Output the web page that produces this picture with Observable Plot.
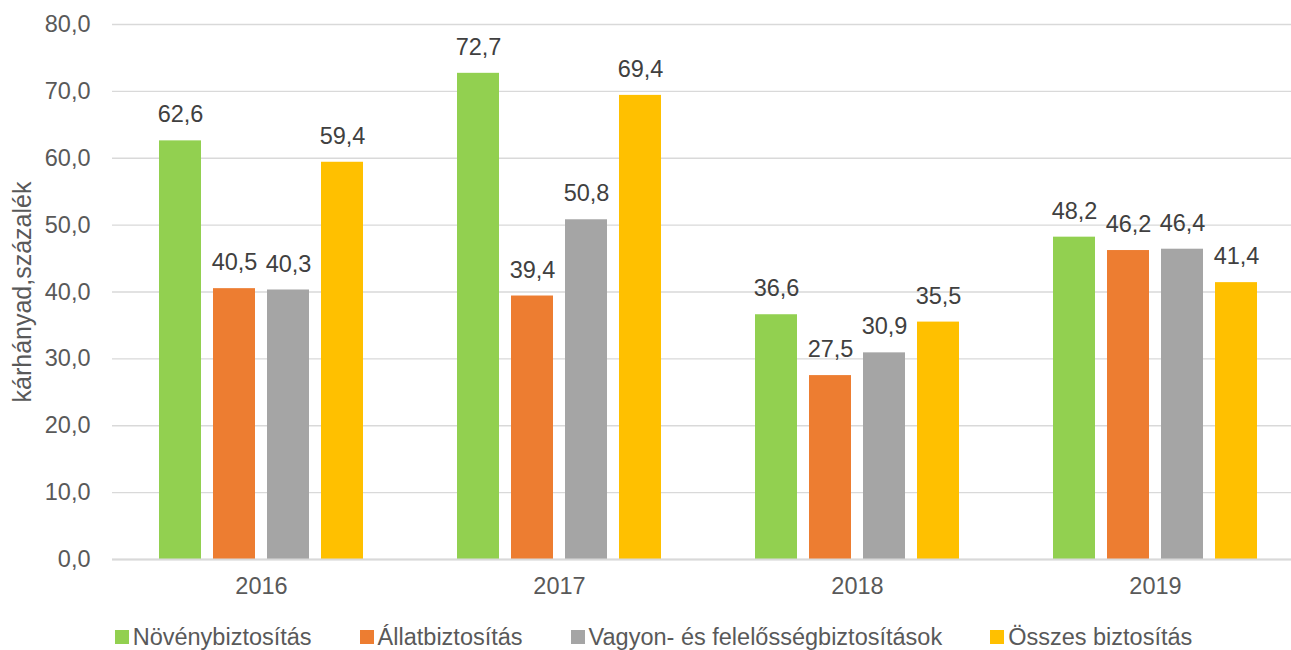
<!DOCTYPE html>
<html>
<head>
<meta charset="utf-8">
<script src="https://cdn.jsdelivr.net/npm/d3@7"></script>
<script src="https://cdn.jsdelivr.net/npm/@observablehq/plot@0.6"></script>
<style>
  html, body { margin: 0; padding: 0; background: #fff; }
  svg { display: block; }
  #legend { display: flex; justify-content: center; align-items: center; height: 62px; padding-left: 16px;
    font-family: "Liberation Sans", Arial, sans-serif; font-size: 23.5px; color: #595959; }
  .item { display: flex; align-items: center; margin: 0 24px; }
  .sw { width: 14px; height: 14px; margin-right: 4px; }
</style>
</head>
<body>
<div id="chart"></div>
<script>
const years = ["2016", "2017", "2018", "2019"];
const series = ["Növénybiztosítás", "Állatbiztosítás", "Vagyon- és felelősségbiztosítások", "Összes biztosítás"];
const colors = ["#92D050", "#ED7D31", "#A5A5A5", "#FFC000"];
const novenyValues = [62.6, 72.7, 36.6, 48.2];
const allatValues = [40.5, 39.4, 27.5, 46.2];
const vagyonValues = [40.3, 50.8, 30.9, 46.4];
const osszesValues = [59.4, 69.4, 35.5, 41.4];
const yTicks = [0, 10, 20, 30, 40, 50, 60, 70, 80];
const yLabel = "kárhányad,százalék";

const allSeries = [novenyValues, allatValues, vagyonValues, osszesValues];
const data = [];
years.forEach((yr, i) => series.forEach((s, j) => data.push({year: yr, series: s, value: allSeries[j][i]})));
const fmt = d => d.toFixed(1).replace(".", ",");
const font = "Liberation Sans, Arial, sans-serif";

const plot = Plot.plot({
  width: 1291,
  height: 606,
  marginTop: 24,
  marginBottom: 47,
  marginLeft: 112,
  marginRight: -13,
  style: {fontFamily: font, fontSize: "23.5px", color: "#595959", background: "#fff"},
  fx: {domain: years, padding: 0},
  x: {domain: series, paddingInner: 0.222, paddingOuter: 0.87, axis: null},
  y: {domain: [0, 80]},
  color: {domain: series, range: colors},
  marks: [
    Plot.gridY(yTicks, {stroke: "#D9D9D9", strokeOpacity: 1, strokeWidth: 1.3}),
    Plot.barY(data, {fx: "year", x: "series", y: "value", fill: "series"}),
    Plot.ruleY([0], {stroke: "#D9D9D9", strokeWidth: 2}),
    Plot.text(data, {fx: "year", x: "series", y: "value", text: d => fmt(d.value), dy: -26,
      fill: "#404040", fontSize: 23.5, fontFamily: font}),
    Plot.axisY(yTicks, {tickSize: 0, tickPadding: 22, tickFormat: fmt, fontSize: 23.5, fill: "#595959", label: null}),
    Plot.axisY([], {tickSize: 0, label: yLabel, labelAnchor: "center", labelArrow: "none", labelOffset: 99,
      fontSize: 25, fill: "#595959", style: "letter-spacing:0.7px"}),
    Plot.axisFx({anchor: "bottom", tickSize: 0, tickPadding: 18, label: null, fontSize: 23.5, fill: "#595959"})
  ]
});
document.getElementById("chart").appendChild(plot);

const legend = document.createElement("div");
legend.id = "legend";
series.forEach((s, j) => {
  const it = document.createElement("div");
  it.className = "item";
  const sw = document.createElement("span");
  sw.className = "sw";
  sw.style.background = colors[j];
  const t = document.createElement("span");
  t.textContent = s;
  it.appendChild(sw); it.appendChild(t);
  legend.appendChild(it);
});
document.getElementById("chart").appendChild(legend);
</script>
</body>
</html>
